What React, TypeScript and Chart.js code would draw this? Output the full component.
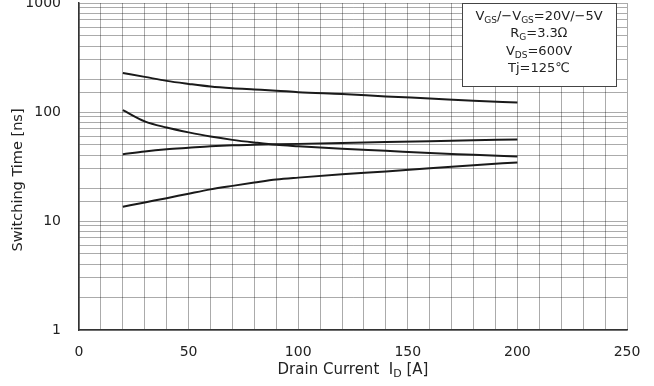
import React, { useEffect, useRef } from "react";
import { Chart, registerables } from "chart.js";

Chart.register(...registerables);

const currents = [20, 30, 40, 50, 60, 70, 80, 90, 100, 120, 140, 160, 180, 200];
const tdOff = [228, 210, 193, 181, 171, 165, 161, 157, 152, 146, 139, 133, 127, 122];
const tf = [104, 82, 72, 65, 59.5, 55.5, 52.5, 50, 48.5, 46, 44, 42, 40.5, 39];
const tdOn = [41, 43.5, 45.5, 47, 48.5, 49.5, 50, 50.5, 51, 52, 53, 54, 55, 56];
const tr = [13.5, 14.8, 16.2, 17.8, 19.5, 21, 22.5, 24, 25, 26.8, 28.5, 30.5, 32.5, 34.5];

const xMin = 0;
const xMax = 250;
const xStep = 10;
const xLabelStep = 50;
const yMin = 1;
const yMax = 1000;

const FONT = "'DejaVu Sans', sans-serif";
const INK = "#222";

const overlayPlugin = {
  id: "overlay",
  afterDraw(chart: any) {
    const ctx = chart.ctx as CanvasRenderingContext2D;
    const area = chart.chartArea;
    ctx.save();
    ctx.fillStyle = INK;
    // y title
    ctx.save();
    ctx.translate(18, 180);
    ctx.rotate(-Math.PI / 2);
    ctx.font = `14.5px ${FONT}`;
    ctx.textAlign = "center";
    ctx.textBaseline = "middle";
    ctx.fillText("Switching Time [ns]", 0, 0);
    ctx.restore();

    const drawRich = (parts: { t: string; sub?: boolean }[], cx: number, cy: number, size: number) => {
      const subSize = Math.round(size * 0.7);
      let total = 0;
      for (const p of parts) {
        ctx.font = `${p.sub ? subSize : size}px ${FONT}`;
        total += ctx.measureText(p.t).width;
      }
      let x = cx - total / 2;
      ctx.textAlign = "left";
      ctx.textBaseline = "middle";
      for (const p of parts) {
        ctx.font = `${p.sub ? subSize : size}px ${FONT}`;
        ctx.fillText(p.t, x, p.sub ? cy + size * 0.3 : cy);
        x += ctx.measureText(p.t).width;
      }
    };
    drawRich(
      [{ t: "Drain Current  I" }, { t: "D", sub: true }, { t: " [A]" }],
      (area.left + area.right) / 2,
      370,
      15
    );

    // condition box
    const bx = 462, by = 3, bw = 154, bh = 83;
    ctx.fillStyle = "#fff";
    ctx.fillRect(bx, by, bw, bh);
    ctx.strokeStyle = "#444";
    ctx.lineWidth = 1;
    ctx.strokeRect(bx + 0.5, by + 0.5, bw, bh);
    ctx.fillStyle = INK;
    const cx = bx + bw / 2;
    drawRich([{ t: "V" }, { t: "GS", sub: true }, { t: "/\u2212V" }, { t: "GS", sub: true }, { t: "=20V/\u22125V" }], cx, 17, 13);
    drawRich([{ t: "R" }, { t: "G", sub: true }, { t: "=3.3\u2126" }], cx, 34, 13);
    drawRich([{ t: "V" }, { t: "DS", sub: true }, { t: "=600V" }], cx, 52, 13);
    drawRich([{ t: "Tj=125\u2103" }], cx, 69, 13);
    ctx.restore();
  },
};

export default function App() {
  const ref = useRef<HTMLCanvasElement>(null);
  useEffect(() => {
    if (!ref.current) return;
    const mk = (data: number[]) => ({
      data: currents.map((x, i) => ({ x, y: data[i] })),
      borderColor: "#1a1a1a",
      borderWidth: 2,
      pointRadius: 0,
      fill: false,
      cubicInterpolationMode: "monotone" as const,
    });
    const chart = new Chart(ref.current, {
      type: "line",
      data: { datasets: [mk(tdOff), mk(tf), mk(tdOn), mk(tr)] },
      plugins: [overlayPlugin],
      options: {
        animation: false,
        responsive: true,
        maintainAspectRatio: false,
        layout: { padding: { top: 3, right: 27, left: 0, bottom: 0 } },
        plugins: { legend: { display: false }, tooltip: { enabled: false } },
        scales: {
          x: {
            type: "linear",
            min: xMin,
            max: xMax,
            border: { color: "#333", width: 1.5 },
            grid: { color: "rgba(0,0,0,0.33)", drawTicks: false },
            ticks: {
              stepSize: xStep,
              autoSkip: false,
              maxRotation: 0,
              padding: 14,
              color: INK,
              font: { family: FONT, size: 14 },
              callback: (v: any) => (Number(v) % xLabelStep === 0 ? String(v) : ""),
            },
            afterFit: (s: any) => {
              s.height = 56;
              s.paddingLeft = 0;
              s.paddingRight = 0;
            },
          },
          y: {
            type: "logarithmic",
            min: yMin,
            max: yMax,
            border: { color: "#333", width: 1.5 },
            grid: { color: "rgba(0,0,0,0.33)", drawTicks: false },
            ticks: {
              autoSkip: false,
              padding: 18,
              color: INK,
              font: { family: FONT, size: 14 },
              callback: (v: any) => {
                const n = Number(v);
                const l = Math.log10(n);
                return Math.abs(l - Math.round(l)) < 1e-9 ? String(n) : "";
              },
            },
            afterFit: (s: any) => {
              s.width = 79;
              s.paddingTop = 0;
              s.paddingBottom = 0;
            },
          },
        },
      },
    });
    return () => chart.destroy();
  }, []);
  return (
    <div style={{ position: "fixed", left: 0, top: 0, width: 654, height: 386, background: "#fff" }}>
      <canvas ref={ref} />
    </div>
  );
}
